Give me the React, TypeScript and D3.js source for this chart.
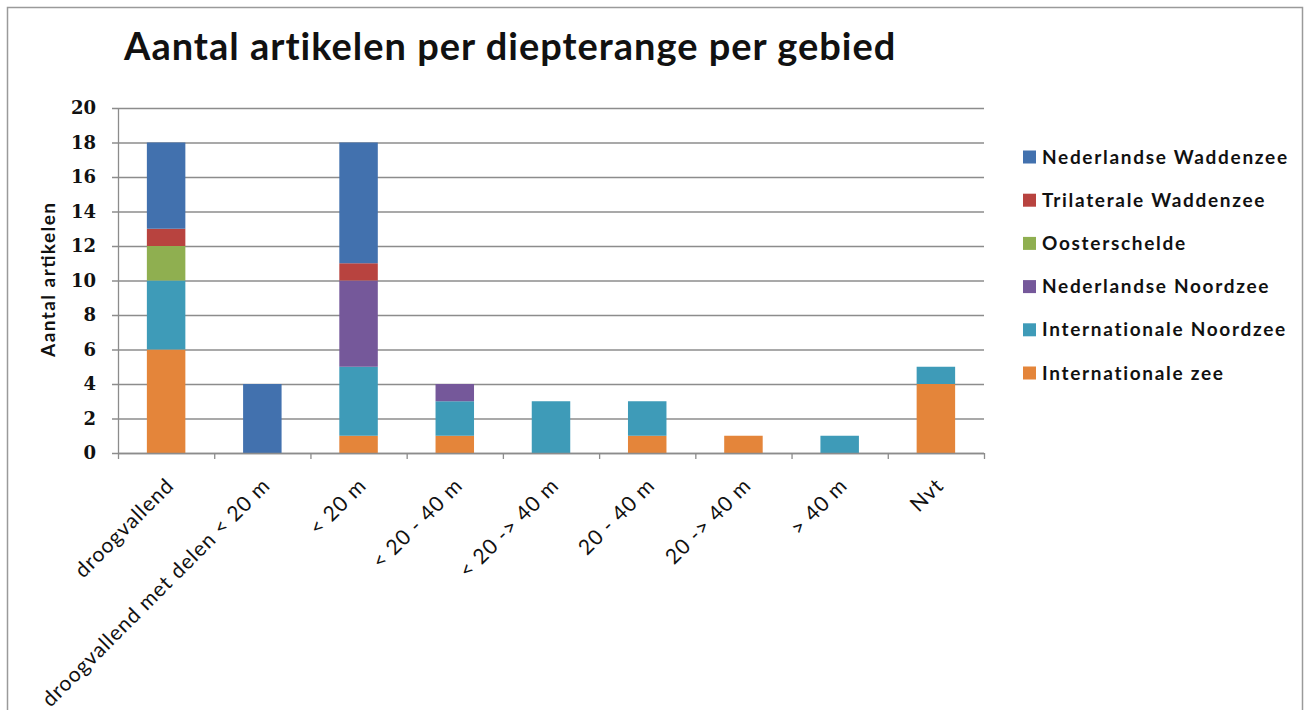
import React, { useEffect, useRef } from "react";
import * as d3 from "d3";

const categories = [
  "droogvallend",
  "droogvallend met delen < 20 m",
  "< 20 m",
  "< 20 - 40 m",
  "< 20 -> 40 m",
  "20 - 40 m",
  "20 -> 40 m",
  "> 40 m",
  "Nvt",
];

// stacking order bottom -> top
const seriesNames = [
  "Internationale zee",
  "Internationale Noordzee",
  "Nederlandse Noordzee",
  "Oosterschelde",
  "Trilaterale Waddenzee",
  "Nederlandse Waddenzee",
];

const internationaleZee = [6, 0, 1, 1, 0, 1, 1, 0, 4];
const internationaleNoordzee = [4, 0, 4, 2, 3, 2, 0, 1, 1];
const nederlandseNoordzee = [0, 0, 5, 1, 0, 0, 0, 0, 0];
const oosterschelde = [2, 0, 0, 0, 0, 0, 0, 0, 0];
const trilateraleWaddenzee = [1, 0, 1, 0, 0, 0, 0, 0, 0];
const nederlandseWaddenzee = [5, 4, 7, 0, 0, 0, 0, 0, 0];

const seriesValues = [
  internationaleZee,
  internationaleNoordzee,
  nederlandseNoordzee,
  oosterschelde,
  trilateraleWaddenzee,
  nederlandseWaddenzee,
];

const colors = ["#E4853A", "#3E9BB8", "#75589A", "#8FAF50", "#B8433F", "#4271AE"];

const yTicks = [0, 2, 4, 6, 8, 10, 12, 14, 16, 18, 20];

const title = "Aantal artikelen per diepterange per gebied";
const yTitle = "Aantal artikelen";

export default function App() {
  const ref = useRef<SVGSVGElement>(null);

  useEffect(() => {
    const svg = d3.select(ref.current);
    svg.selectAll("*").remove();
    const W = 1312, H = 710;
    const font = "Lato, 'Open Sans', sans-serif";
    const serif = "'DejaVu Serif', 'Liberation Serif', serif";

    svg.append("rect").attr("width", W).attr("height", H).attr("fill", "#fff");
    svg.append("rect").attr("x", 7.5).attr("y", 7.5).attr("width", 1295).attr("height", 720)
      .attr("fill", "none").attr("stroke", "#9a9a9a").attr("stroke-width", 1.5);

    const left = 118, right = 984, top = 108, bottom = 453;
    const x = d3.scaleBand<string>().domain(categories).range([left, right]).paddingInner(0.6).paddingOuter(0.3);
    const xb = d3.scaleBand<string>().domain(categories).range([left, right]);
    const y = d3.scaleLinear().domain([0, 20]).range([bottom, top]);

    // gridlines
    svg.append("g").selectAll("line").data(yTicks).join("line")
      .attr("x1", left - 6).attr("x2", right).attr("y1", d => y(d) + 0.5).attr("y2", d => y(d) + 0.5)
      .attr("stroke", "#8c8c8c").attr("stroke-width", 1.3);

    // y tick labels
    svg.append("g").selectAll("text").data(yTicks).join("text")
      .attr("x", 96).attr("y", d => y(d)).attr("dy", "0.36em").attr("text-anchor", "end")
      .attr("font-family", serif).attr("font-weight", 700).attr("font-size", 18).attr("fill", "#111")
      .text(d => String(d));

    // stacks
    const table = categories.map((c, i) => {
      const o: any = { cat: c };
      seriesNames.forEach((s, k) => (o[s] = seriesValues[k][i]));
      return o;
    });
    const stacked = d3.stack<any>().keys(seriesNames)(table);
    const g = svg.append("g");
    stacked.forEach((layer, k) => {
      g.append("g").attr("fill", colors[k]).selectAll("rect").data(layer).join("rect")
        .attr("x", d => x(d.data.cat)!)
        .attr("width", x.bandwidth())
        .attr("y", d => y(d[1]))
        .attr("height", d => y(d[0]) - y(d[1]));
    });

    // axes lines
    svg.append("line").attr("x1", left + 0.5).attr("x2", left + 0.5).attr("y1", top).attr("y2", bottom)
      .attr("stroke", "#8c8c8c").attr("stroke-width", 1.3);
    svg.append("line").attr("x1", left).attr("x2", right).attr("y1", bottom + 0.5).attr("y2", bottom + 0.5)
      .attr("stroke", "#8c8c8c").attr("stroke-width", 1.3);
    const bounds = categories.map(c => xb(c)!).concat([right]);
    svg.append("g").selectAll("line").data(bounds).join("line")
      .attr("x1", d => d + 0.5).attr("x2", d => d + 0.5).attr("y1", bottom).attr("y2", bottom + 6)
      .attr("stroke", "#8c8c8c").attr("stroke-width", 1.3);

    // x labels
    svg.append("g").selectAll("text").data(categories).join("text")
      .attr("transform", c => `translate(${xb(c)! + xb.bandwidth() / 2 + 9},${487}) rotate(-45)`)
      .attr("text-anchor", "end")
      .attr("font-family", font).attr("font-size", 21).attr("letter-spacing", 0.9).attr("fill", "#111")
      .text(c => c);

    // title
    svg.append("text").attr("x", 124).attr("y", 60)
      .attr("font-family", font).attr("font-weight", 700).attr("font-size", 38).attr("letter-spacing", 1)
      .attr("fill", "#111")
      .text(title);

    // y title
    svg.append("text").attr("transform", `translate(55,280) rotate(-90)`).attr("text-anchor", "middle")
      .attr("font-family", font).attr("font-weight", 700).attr("font-size", 19)
      .attr("textLength", 154).attr("lengthAdjust", "spacing").attr("fill", "#111")
      .text(yTitle);

    // legend (reverse order)
    const legendItems = seriesNames.map((s, k) => ({ s, c: colors[k] })).reverse();
    const lg = svg.append("g");
    legendItems.forEach((it, i) => {
      const cy = 157 + i * 43.2;
      lg.append("rect").attr("x", 1023).attr("y", cy - 6.5).attr("width", 13).attr("height", 13).attr("fill", it.c);
      lg.append("text").attr("x", 1042).attr("y", cy).attr("dy", "0.35em")
        .attr("font-family", font).attr("font-weight", 700).attr("font-size", 19).attr("letter-spacing", 1.7)
        .attr("fill", "#111").text(it.s);
    });
  }, []);

  return (
    <svg ref={ref} width={1312} height={710} style={{ position: "absolute", left: 0, top: 0 }} />
  );
}
